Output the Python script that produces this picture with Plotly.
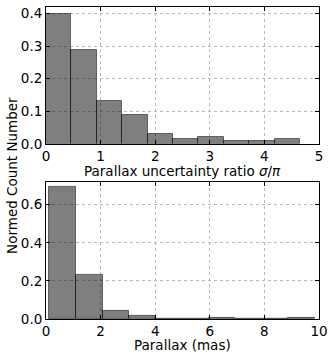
import numpy as np
import plotly.graph_objects as go
from plotly.subplots import make_subplots

# parallax uncertainty ratio histogram (normed fractions)
ratio_edges = [0.0, 0.465, 0.93, 1.395, 1.86, 2.325, 2.79, 3.255, 3.72, 4.185, 4.65]
ratio_frac = [0.398, 0.289, 0.132, 0.087, 0.029, 0.015, 0.022, 0.008, 0.008, 0.015]

# parallax histogram (mas)
plx_edges = [0.12, 1.09, 2.07, 3.04, 4.01, 4.99, 5.96, 6.93, 7.90, 8.88, 9.85]
plx_frac = [0.694, 0.234, 0.043, 0.016, 0.0, 0.0, 0.007, 0.0, 0.0, 0.007]

FONT = dict(family="DejaVu Sans", size=13.5, color="black")
BAR = dict(color="rgba(0,0,0,0.5)", line=dict(color="rgba(0,0,0,0.5)", width=1))

fig = make_subplots(rows=2, cols=1, vertical_spacing=0.12)

for row, (edges, frac) in enumerate([(ratio_edges, ratio_frac), (plx_edges, plx_frac)], start=1):
    edges = np.asarray(edges)
    fig.add_trace(
        go.Bar(x=edges[:-1], y=frac, width=np.diff(edges), offset=0,
               marker=BAR, showlegend=False),
        row=row, col=1,
    )

axis_style = dict(
    showline=True, linecolor="black", linewidth=1, mirror="ticks",
    ticks="inside", ticklen=4, tickcolor="black",
    showgrid=True, gridcolor="#b8b8b8", griddash="dot", gridwidth=1,
    zeroline=False, tickfont=FONT,
)
fig.update_xaxes(**axis_style)
fig.update_yaxes(**axis_style)

fig.update_xaxes(range=[0, 5], dtick=1, domain=[0, 1], row=1, col=1)
fig.update_yaxes(range=[0, 0.42], dtick=0.1, tickformat=".1f",
                 domain=[0.5615, 1], row=1, col=1)
fig.update_xaxes(range=[0, 10], dtick=2, domain=[0, 1], row=2, col=1)
fig.update_yaxes(range=[0, 0.72], tickvals=[0, 0.2, 0.4, 0.6], tickformat=".1f",
                 domain=[0, 0.4395], row=2, col=1)

fig.add_annotation(text="Parallax uncertainty ratio <i>σ</i>/<i>π</i>",
                   xref="paper", yref="paper", x=0.5, y=0.4745,
                   xanchor="center", yanchor="middle", showarrow=False, font=FONT)
fig.add_annotation(text="Parallax (mas)",
                   xref="paper", yref="paper", x=0.5, y=-0.083,
                   xanchor="center", yanchor="middle", showarrow=False, font=FONT)
fig.add_annotation(text="Normed Count Number", textangle=-90,
                   xref="paper", yref="paper", x=-0.1245, y=0.4586,
                   xanchor="center", yanchor="middle", showarrow=False, font=FONT)

fig.update_layout(
    width=333, height=358,
    margin=dict(l=46, r=14, t=5, b=39),
    paper_bgcolor="white", plot_bgcolor="white",
    bargap=0, font=FONT,
)

fig.write_html("out.html", config={"displayModeBar": False},
               post_script="document.body.style.margin='0px';")
